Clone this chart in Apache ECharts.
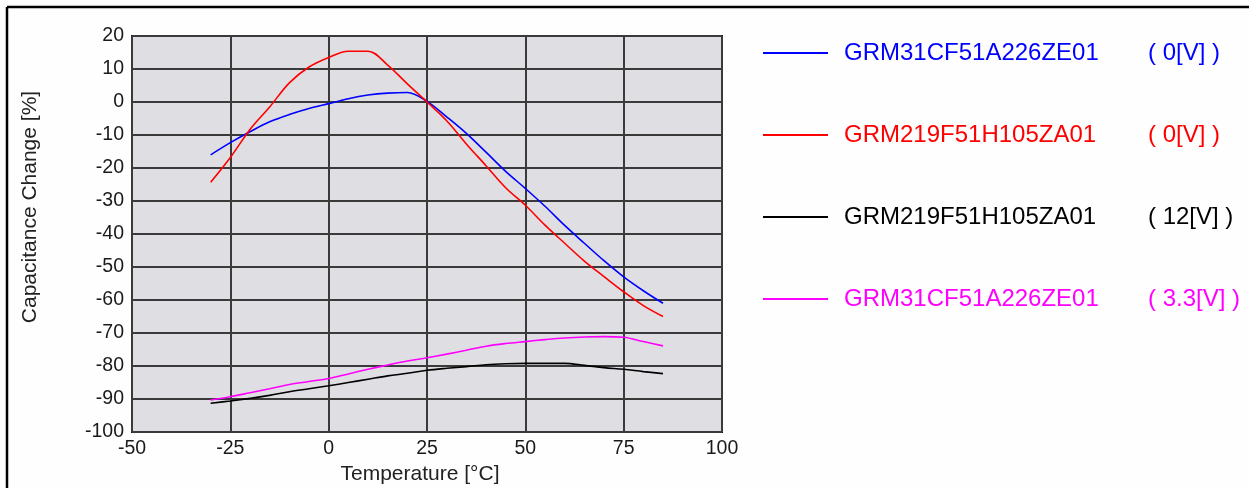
<!DOCTYPE html>
<html>
<head>
<meta charset="utf-8">
<script src="https://cdn.jsdelivr.net/npm/echarts@6/dist/echarts.min.js"></script>
<style>
html,body{margin:0;padding:0;background:#fefefe;}
#chart{width:1249px;height:488px;}
</style>
</head>
<body>
<div id="chart"></div>
<script>
// ---- data ----
const temperatures = [-30,-25,-20,-15,-10,-5,0,5,10,15,20,25,30,35,40,45,50,55,60,65,70,75,80,85];
const blue0V   = [-16.0,-12.3,-9.0,-6.0,-3.8,-2.0,-0.5,1.0,2.1,2.7,2.9,0.2,-4.5,-9.5,-15.2,-21.0,-26.2,-31.6,-37.4,-42.8,-48.1,-53.0,-57.2,-61.0];
const red0V    = [-24.3,-16.8,-8.3,-1.5,5.8,10.6,13.5,15.4,15.4,11.2,5.5,0.0,-5.7,-12.7,-19.3,-26.0,-31.3,-37.3,-42.8,-48.2,-52.9,-57.5,-61.7,-65.0];
const black12V = [-91.3,-90.6,-89.8,-88.9,-87.8,-86.9,-86.0,-85.0,-84.0,-83.0,-82.2,-81.3,-80.7,-80.2,-79.6,-79.3,-79.2,-79.2,-79.2,-79.8,-80.5,-81.0,-81.7,-82.3];
const magenta33V = [-90.3,-89.3,-88.1,-86.9,-85.6,-84.7,-83.8,-82.4,-81.0,-79.7,-78.5,-77.5,-76.4,-75.2,-74.0,-73.2,-72.6,-72.0,-71.5,-71.2,-71.1,-71.3,-72.6,-73.9];
const partNumbers = ['GRM31CF51A226ZE01','GRM219F51H105ZA01','GRM219F51H105ZA01','GRM31CF51A226ZE01'];
const biasLabels  = ['( 0[V] )','( 0[V] )','( 12[V] )','( 3.3[V] )'];
const seriesColors = ['#0000ff','#ff0000','#000000','#ff00ff'];
const xTicks = {min:-50, max:100, step:25};
const yTicks = {min:-100, max:20, step:10};
const xTitle = 'Temperature [°C]';
const yTitle = 'Capacitance Change [%]';

const allValues = [blue0V, red0V, black12V, magenta33V];
const FONT = "'Liberation Sans', Arial, sans-serif";
const names = partNumbers.map((p,i)=>p+'|'+biasLabels[i]);

const chart = echarts.init(document.getElementById('chart'));
chart.setOption({
  backgroundColor:'#fefefe',
  animation:false,
  grid:{left:132, top:36, width:590, height:396, show:true, backgroundColor:'#dfdfe3', borderColor:'#111', borderWidth:2},
  xAxis:{type:'value', min:xTicks.min, max:xTicks.max, interval:xTicks.step,
    axisLine:{show:false}, axisTick:{show:false},
    splitLine:{show:true, lineStyle:{color:'#3a3a3a', width:2}},
    axisLabel:{color:'#1a1a1a', fontSize:19.5, fontFamily:FONT, margin:7}},
  yAxis:{type:'value', min:yTicks.min, max:yTicks.max, interval:yTicks.step,
    axisLine:{show:false}, axisTick:{show:false},
    splitLine:{show:true, lineStyle:{color:'#3a3a3a', width:2}},
    axisLabel:{color:'#1a1a1a', fontSize:19.5, fontFamily:FONT, margin:8}},
  legend:{orient:'vertical', left:763, top:41, padding:0, itemWidth:65, itemHeight:2, icon:'rect', itemGap:58,
    data:names.map((n,i)=>({name:n, textStyle:{color:seriesColors[i]}})),
    formatter:function(n){const parts=n.split('|'); return '{s|}{a|'+parts[0]+'}{b|'+parts[1]+'}';},
    textStyle:{fontFamily:FONT, fontSize:24,
      rich:{s:{width:11, fontSize:24}, a:{width:304, fontSize:24, fontFamily:FONT}, b:{fontSize:24, fontFamily:FONT}}}},
  graphic:[
    {type:'line', shape:{x1:7, y1:7, x2:1249, y2:7}, style:{stroke:'#000', lineWidth:2.5}},
    {type:'line', shape:{x1:7, y1:7, x2:7, y2:488}, style:{stroke:'#000', lineWidth:2.5}},
    {type:'text', x:420, y:474, style:{text:xTitle, font:"21px 'Liberation Sans', Arial, sans-serif", fill:'#222', align:'center', verticalAlign:'middle'}},
    {type:'text', x:30, y:207, rotation:Math.PI/2, style:{text:yTitle, font:"21px 'Liberation Sans', Arial, sans-serif", fill:'#222', align:'center', verticalAlign:'middle'}}
  ],
  series: allValues.map((vals,i)=>({
    name:names[i], type:'line', showSymbol:false, smooth:0.35,
    lineStyle:{color:seriesColors[i], width:1.6}, itemStyle:{color:seriesColors[i]},
    data: temperatures.map((t,k)=>[t, vals[k]])
  }))
});
</script>
</body>
</html>
